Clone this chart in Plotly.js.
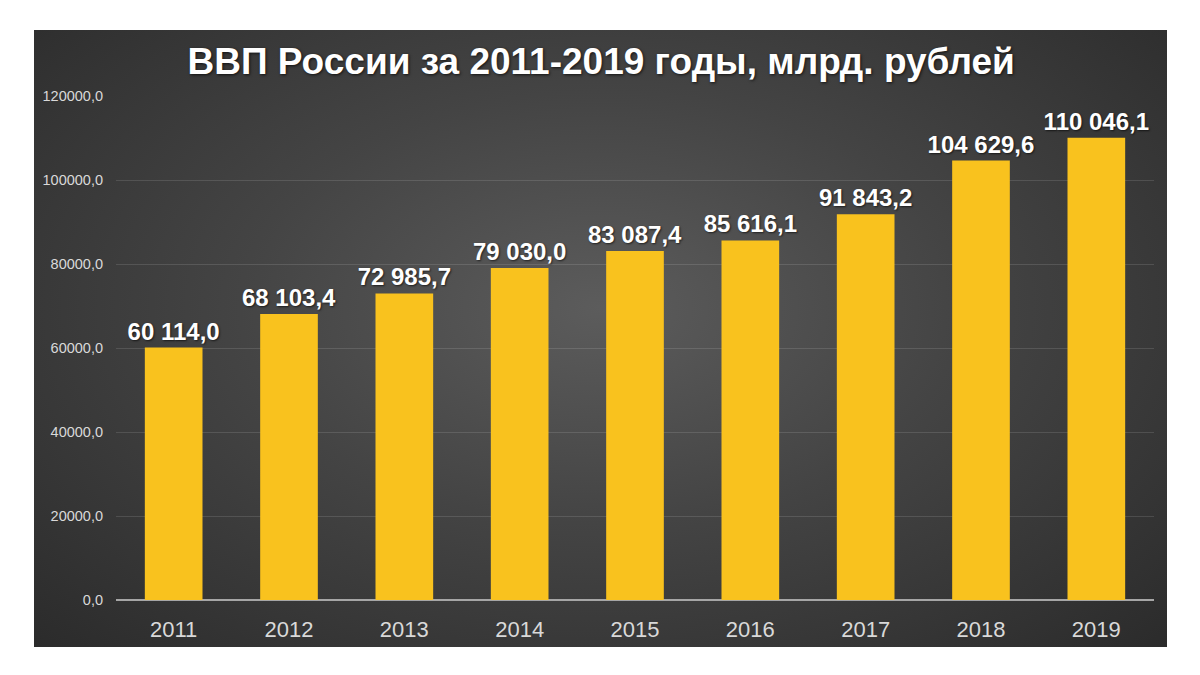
<!DOCTYPE html>
<html>
<head>
<meta charset="utf-8">
<script src="https://cdn.plot.ly/plotly-3.0.1.min.js"></script>
<style>
html,body{margin:0;padding:0;background:#fff;}
#wrap{position:relative;width:1200px;height:675px;}
#bg{position:absolute;left:34px;top:30px;width:1133px;height:617px;
background:radial-gradient(ellipse at 50% 45%, #5c5c5c 0%, #444 45%, #2b2b2b 100%);}
#chart{position:absolute;left:0;top:0;width:1200px;height:675px;}
</style>
</head>
<body>
<div id="wrap"><div id="bg"></div><div id="chart"></div></div>
<script>
const years = ['2011','2012','2013','2014','2015','2016','2017','2018','2019'];
const gdp = [60114.0, 68103.4, 72985.7, 79030.0, 83087.4, 85616.1, 91843.2, 104629.6, 110046.1];
const yTicks = [0,20000,40000,60000,80000,100000,120000];

function fmtLabel(v){
  const parts = v.toFixed(1).split('.');
  const intPart = parts[0].replace(/\B(?=(\d{3})+(?!\d))/g,' ');
  return intPart + ',' + parts[1];
}
const labels = gdp.map(fmtLabel);
const yTickText = yTicks.map(v => v.toFixed(1).replace('.', ','));

const trace = {
  type:'bar', x:years, y:gdp,
  marker:{color:'#f9c21e', line:{width:0}},
  text:labels, textposition:'outside', cliponaxis:false, constraintext:'none',
  textfont:{family:'Liberation Sans, Arial, sans-serif', size:24, color:'#ffffff', weight:'bold', shadow:'1px 1px 2px rgba(0,0,0,0.6)'},
  hoverinfo:'none'
};
const layout = {
  width:1200, height:675,
  margin:{l:116, r:46, t:96, b:75},
  paper_bgcolor:'rgba(0,0,0,0)', plot_bgcolor:'rgba(0,0,0,0)',
  bargap:0.5,
  showlegend:false,
  title:{text:'ВВП России за 2011-2019 годы, млрд. рублей', x:0.501, xref:'container', xanchor:'center', y:0.909, yanchor:'middle',
    font:{family:'Liberation Sans, Arial, sans-serif', size:37, color:'#ffffff', weight:'bold', shadow:'1px 1px 3px rgba(0,0,0,0.7)'}},
  xaxis:{type:'category', tickfont:{family:'Liberation Sans, Arial, sans-serif', size:22, color:'#d9d9d9'},
    showline:false, ticks:'', showgrid:false, zeroline:false, ticklabelstandoff:14},
  yaxis:{range:[0,120000], tickvals:yTicks, ticktext:yTickText,
    tickfont:{family:'Liberation Sans, Arial, sans-serif', size:14.5, color:'#d9d9d9'},
    showgrid:true, gridcolor:'rgba(255,255,255,0.12)', gridwidth:1,
    zeroline:true, zerolinecolor:'#a6a6a6', zerolinewidth:2, ticks:'', ticklabelstandoff:12, showline:false}
};
Plotly.newPlot('chart',[trace],layout,{displayModeBar:false, staticPlot:true});
</script>
</body>
</html>
